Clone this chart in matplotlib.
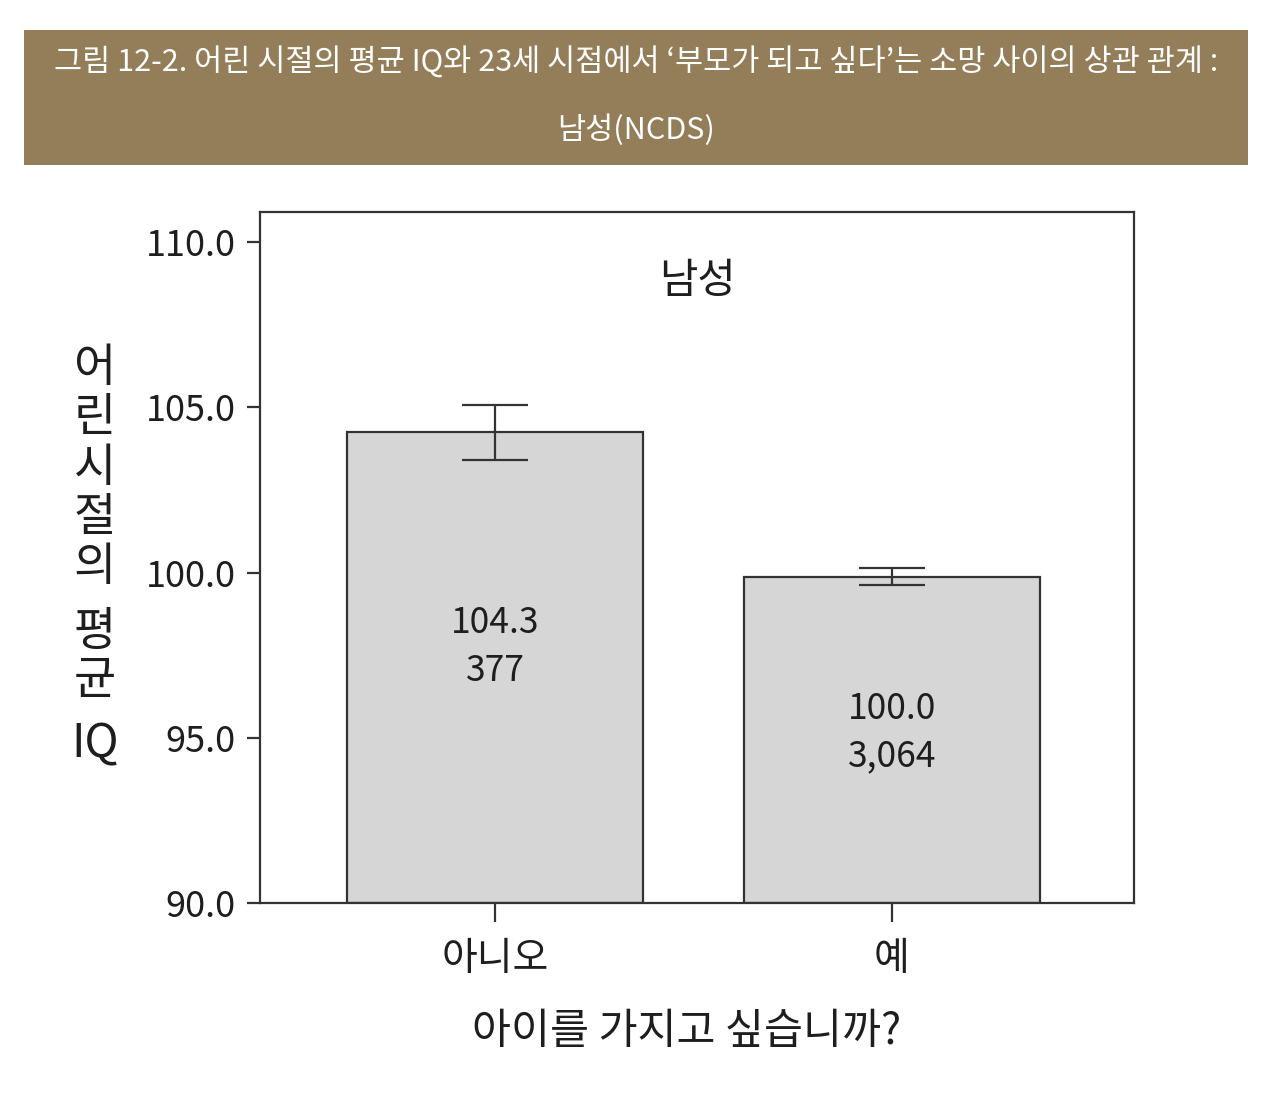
import matplotlib
matplotlib.use("Agg")
import matplotlib.pyplot as plt
from matplotlib.patches import Rectangle

plt.rcParams['font.family'] = ['Noto Sans CJK KR', 'DejaVu Sans']

# ---- data ----
categories = ['아니오', '예']
means = [104.25, 99.88]
err = [0.83, 0.27]
value_labels = ['104.3', '100.0']
count_labels = ['377', '3,064']
yticks = [90.0, 95.0, 100.0, 105.0, 110.0]
title_lines = ["그림 12-2. 어린 시절의 평균 IQ와 23세 시점에서 ‘부모가 되고 싶다’는 소망 사이의 상관 관계 :",
               "남성(NCDS)"]
panel_title = '남성'
xlabel = '아이를 가지고 싶습니까?'
ylabel_chars = ['어', '린', '시', '절', '의', '평', '균', 'IQ']

W, H = 1262, 1094
fig = plt.figure(figsize=(W / 100, H / 100), dpi=100)
fig.patch.set_facecolor('white')
txt = '#1e1e1e'

# banner
fig.patches.append(Rectangle((24 / W, 1 - 165 / H), 1224 / W, 135 / H,
                             transform=fig.transFigure, facecolor='#937E59',
                             edgecolor='none', zorder=0))
fig.text(636 / W, 1 - 63 / H, title_lines[0], color='white', fontsize=22,
         ha='center', va='center', fontweight='medium')
fig.text(636 / W, 1 - 130 / H, title_lines[1], color='white', fontsize=22,
         ha='center', va='center', fontweight='medium')

ax = fig.add_axes([260 / W, 1 - 903 / H, 874 / W, 691 / H])
dark = '#333333'
x = list(range(len(categories)))
ax.bar(x, [m - 90 for m in means], bottom=90, width=0.746, color='#D6D6D6',
       edgecolor=dark, linewidth=1.6, zorder=2)
ax.errorbar(x, means, yerr=err, fmt='none', ecolor=dark, elinewidth=1.6,
            capsize=23.8, capthick=1.6, zorder=3)

for i in x:
    yv = 90 + 0.595 * (means[i] - 90)
    ax.text(i, yv, value_labels[i], ha='center', va='center', fontsize=25.5,
            color=txt, zorder=4)
    ax.text(i, yv - 1.45, count_labels[i], ha='center', va='center',
            fontsize=25.5, color=txt, zorder=4)

ax.text(0.501, 0.899, panel_title, transform=ax.transAxes, ha='center',
        va='center', fontsize=30, color=txt)

ax.set_xlim(-0.592, 1.61)
ax.set_ylim(90, 110.91)
ax.set_yticks(yticks)
ax.set_yticklabels([f'{t:.1f}' for t in yticks])
ax.set_xticks(x)
ax.set_xticklabels(categories)
for s in ax.spines.values():
    s.set_color(dark)
    s.set_linewidth(1.6)
ax.tick_params(axis='y', length=9.5, width=1.6, color=dark, pad=8,
               labelsize=26, labelcolor=txt)
ax.tick_params(axis='x', length=14, width=1.6, color=dark, pad=12,
               labelsize=28, labelcolor=txt)

fig.text(687 / W, 1 - 1032 / H, xlabel, ha='center', va='center', fontsize=30.5,
         color=txt)

ys = [368, 418, 468, 518, 567, 632, 681, 744]
for ch, yy in zip(ylabel_chars, ys):
    fig.text(95 / W, 1 - yy / H, ch, ha='center', va='center', fontsize=33,
             color=txt)

fig.savefig('out.png', dpi=100, facecolor='white')
